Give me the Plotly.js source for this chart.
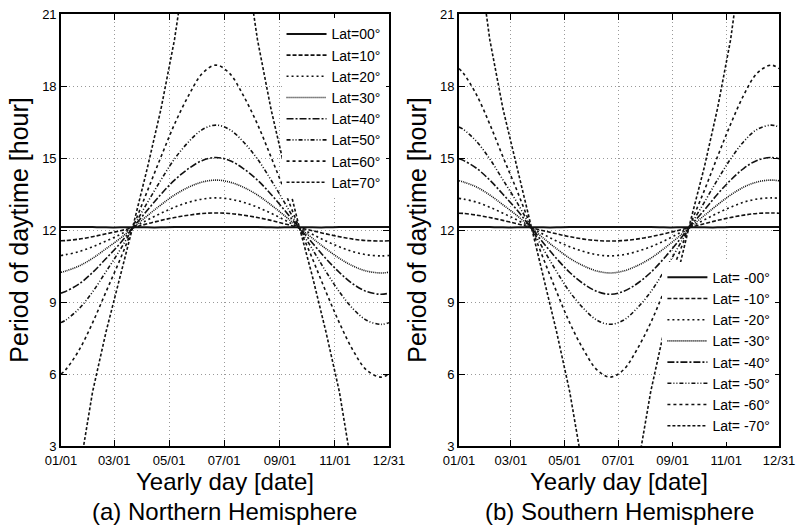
<!DOCTYPE html>
<html>
<head>
<meta charset="utf-8">
<script src="https://cdn.plot.ly/plotly-3.0.1.min.js"></script>
<style>html,body{margin:0;padding:0;background:#fff;}#chart{width:796px;height:529px;}</style>
</head>
<body>
<div id="chart"></div>
<script>
// Day of year (0 = 01/01)
const days = [0,5,20,35,50,66,81,96,111,126,142,157,172,187,202,218,233,248,263,279,294,309,324,339,355,364];

const tickDays = [0,59,120,181,243,304,364];
const tickLabels = ['01/01','03/01','05/01','07/01','09/01','11/01','12/31'];
const yTicks = [3,6,9,12,15,18,21];

// Northern hemisphere: period of daytime [hour]
const north00 = [12.12,12.12,12.12,12.12,12.11,12.11,12.11,12.11,12.11,12.12,12.12,12.12,12.12,12.12,12.12,12.12,12.11,12.11,12.11,12.11,12.11,12.12,12.12,12.12,12.12,12.12];
const north10 = [11.55,11.56,11.62,11.72,11.84,11.97,12.11,12.26,12.40,12.52,12.62,12.69,12.71,12.69,12.62,12.52,12.40,12.26,12.11,11.97,11.84,11.72,11.62,11.56,11.54,11.55];
const north20 = [10.94,10.97,11.10,11.30,11.54,11.82,12.12,12.42,12.70,12.95,13.16,13.29,13.34,13.29,13.16,12.95,12.70,12.42,12.12,11.82,11.54,11.30,11.10,10.97,10.92,10.94];
const north30 = [10.24,10.29,10.50,10.82,11.22,11.66,12.13,12.60,13.05,13.46,13.79,14.00,14.08,14.00,13.79,13.46,13.05,12.60,12.13,11.66,11.22,10.82,10.50,10.29,10.21,10.24];
const north40 = [9.37,9.44,9.75,10.23,10.81,11.46,12.15,12.83,13.49,14.08,14.57,14.90,15.02,14.90,14.57,14.08,13.49,12.83,12.15,11.46,10.81,10.23,9.75,9.44,9.32,9.37];
const north50 = [8.14,8.24,8.72,9.42,10.27,11.20,12.17,13.15,14.09,14.96,15.69,16.19,16.37,16.19,15.69,14.96,14.09,13.15,12.17,11.20,10.27,9.42,8.72,8.24,8.07,8.14];
const north60 = [6.00,6.17,6.99,8.13,9.43,10.81,12.22,13.64,15.05,16.41,17.63,18.53,18.87,18.53,17.63,16.41,15.05,13.64,12.22,10.81,9.43,8.13,6.99,6.17,5.87,6.00];
const north70 = [0,0,1.84,5.25,7.76,10.07,12.33,14.61,17.05,19.94,24,24,24,24,24,19.94,17.05,14.61,12.33,10.07,7.76,5.25,1.84,0,0,0];

// Southern hemisphere
const south00 = [12.12,12.12,12.12,12.12,12.11,12.11,12.11,12.11,12.11,12.12,12.12,12.12,12.12,12.12,12.12,12.12,12.11,12.11,12.11,12.11,12.11,12.12,12.12,12.12,12.12,12.12];
const south10 = [12.70,12.69,12.62,12.52,12.40,12.26,12.11,11.97,11.84,11.72,11.62,11.56,11.54,11.56,11.62,11.72,11.84,11.97,12.11,12.26,12.40,12.52,12.62,12.69,12.71,12.70];
const south20 = [13.32,13.29,13.16,12.95,12.70,12.42,12.12,11.82,11.54,11.30,11.10,10.97,10.92,10.97,11.10,11.30,11.54,11.82,12.12,12.42,12.70,12.95,13.16,13.29,13.34,13.32];
const south30 = [14.05,14.00,13.79,13.46,13.05,12.60,12.13,11.66,11.22,10.82,10.50,10.29,10.21,10.29,10.50,10.82,11.22,11.66,12.13,12.60,13.05,13.46,13.79,14.00,14.08,14.05];
const south40 = [14.97,14.90,14.57,14.08,13.49,12.83,12.15,11.46,10.81,10.23,9.75,9.44,9.32,9.44,9.75,10.23,10.81,11.46,12.15,12.83,13.49,14.08,14.57,14.90,15.02,14.97];
const south50 = [16.29,16.19,15.69,14.96,14.09,13.15,12.17,11.20,10.27,9.42,8.72,8.24,8.07,8.24,8.72,9.42,10.27,11.20,12.17,13.15,14.09,14.96,15.69,16.19,16.37,16.29];
const south60 = [18.72,18.53,17.63,16.41,15.05,13.64,12.22,10.81,9.43,8.13,6.99,6.17,5.87,6.17,6.99,8.13,9.43,10.81,12.22,13.64,15.05,16.41,17.63,18.53,18.87,18.72];
const south70 = [24,24,24,19.94,17.05,14.61,12.33,10.07,7.76,5.25,1.84,0,0,0,1.84,5.25,7.76,10.07,12.33,14.61,17.05,19.94,24,24,24,24];

const northNames = ['Lat=00°','Lat=10°','Lat=20°','Lat=30°','Lat=40°','Lat=50°','Lat=60°','Lat=70°'];
const southNames = ['Lat= -00°','Lat= -10°','Lat= -20°','Lat= -30°','Lat= -40°','Lat= -50°','Lat= -60°','Lat= -70°'];

const northSeries = [north00,north10,north20,north30,north40,north50,north60,north70];
const southSeries = [south00,south10,south20,south30,south40,south50,south60,south70];

const dashes = ['solid','4px,2px','2px,3px','1px,1px','7px,2px,2px,2px','4px,2px,1px,2px,1px,2px','3px,3px','3px,2px'];

const traces = [];
northSeries.forEach((v,i) => {
  traces.push({
    x: days, y: v, type: 'scatter', mode: 'lines', name: northNames[i],
    xaxis: 'x', yaxis: 'y', legend: 'legend',
    line: {color: '#111', width: i === 0 ? 2 : 1.6, dash: dashes[i], shape: i === 7 ? 'linear' : 'spline'}
  });
});
southSeries.forEach((v,i) => {
  traces.push({
    x: days, y: v, type: 'scatter', mode: 'lines', name: southNames[i],
    xaxis: 'x2', yaxis: 'y2', legend: 'legend2',
    line: {color: '#111', width: i === 0 ? 2 : 1.6, dash: dashes[i], shape: i === 7 ? 'linear' : 'spline'}
  });
});

const font = 'Liberation Sans, Arial, Helvetica, sans-serif';
function xAx(domain, anchor) {
  return {
    domain: domain, anchor: anchor, range: [0,364],
    tickvals: tickDays, ticktext: tickLabels,
    ticks: 'inside', ticklen: 6, tickcolor: '#000',
    ticklabelstandoff: 2,
    showline: true, linecolor: '#000', linewidth: 1.8, mirror: 'ticks',
    showgrid: true, gridcolor: '#999', griddash: '1px,3px', gridwidth: 1,
    zeroline: false,
    tickfont: {family: font, size: 13, color: '#000'},
    title: {text: 'Yearly day [date]', font: {family: font, size: 24, color: '#000'}, standoff: 0}
  };
}
function yAx(domain, anchor) {
  return {
    domain: domain, anchor: anchor, range: [3,21],
    tickvals: yTicks,
    ticks: 'inside', ticklen: 6, tickcolor: '#000',
    showline: true, linecolor: '#000', linewidth: 1.8, mirror: 'ticks',
    showgrid: true, gridcolor: '#999', griddash: '1px,3px', gridwidth: 1,
    zeroline: false,
    tickfont: {family: font, size: 13, color: '#000'},
    title: {text: 'Period of daytime [hour]', font: {family: font, size: 25, color: '#000'}, standoff: 6}
  };
}

const legendBase = {
  font: {family: font, size: 14, color: '#000'},
  bgcolor: '#fff', borderwidth: 0, itemwidth: 40,
  tracegroupgap: 0
};

const layout = {
  width: 796, height: 529,
  margin: {l: 61, r: 17, t: 14, b: 83},
  paper_bgcolor: '#fff', plot_bgcolor: '#fff',
  showlegend: true,
  xaxis: xAx([0, 0.4568], 'y'),
  yaxis: yAx([0, 1], 'x'),
  xaxis2: xAx([0.5543, 1], 'y2'),
  yaxis2: yAx([0, 1], 'x2'),
  legend: Object.assign({}, legendBase, {x: 0.452, xanchor: 'right', y: 0.99, yanchor: 'top'}),
  legend2: Object.assign({}, legendBase, {x: 0.995, xanchor: 'right', y: 0.01, yanchor: 'bottom'}),
  annotations: [
    {text: '(a) Northern Hemisphere', xref: 'paper', yref: 'paper', x: 0.2284, y: -0.152, xanchor: 'center', yanchor: 'middle', showarrow: false, font: {family: font, size: 24, color: '#000'}},
    {text: '(b) Southern Hemisphere', xref: 'paper', yref: 'paper', x: 0.7772, y: -0.152, xanchor: 'center', yanchor: 'middle', showarrow: false, font: {family: font, size: 24, color: '#000'}}
  ]
};

Plotly.newPlot('chart', traces, layout, {displayModeBar: false, staticPlot: true});
</script>
</body>
</html>
